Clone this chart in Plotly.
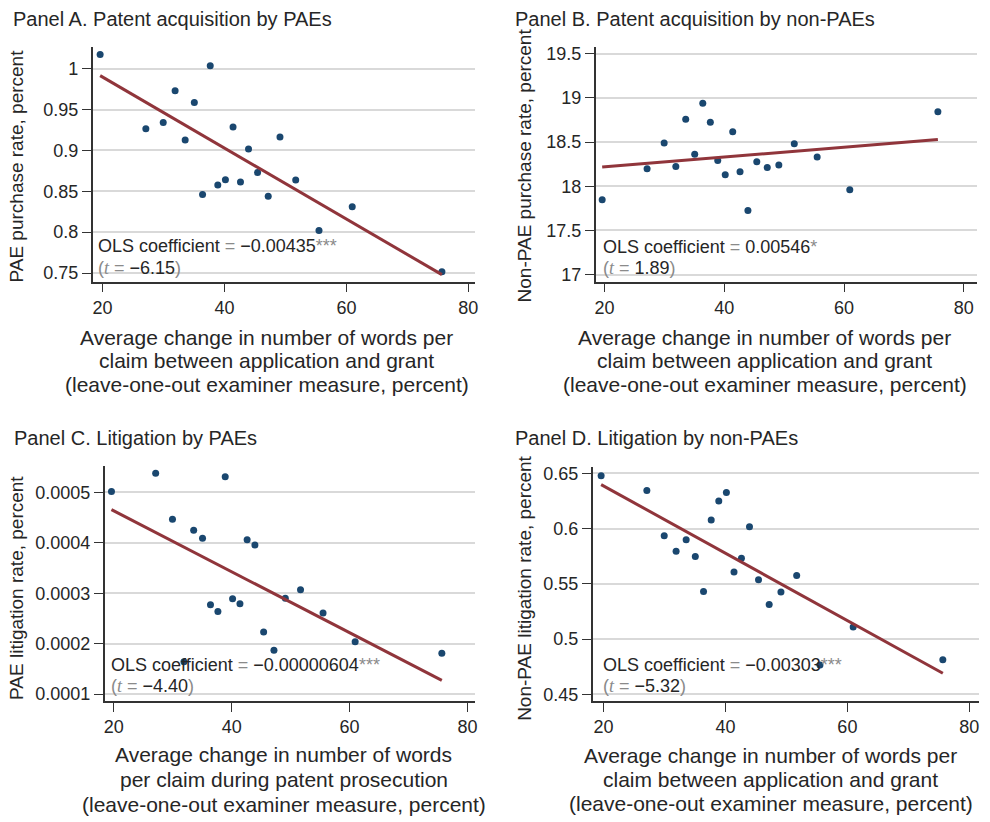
import numpy as np
import plotly.graph_objects as go

# ---------------- data ----------------
x_words = [19.6, 27.1, 29.95, 31.9, 33.55, 35.05, 36.4, 37.66, 38.9, 40.15,
           41.4, 42.62, 43.94, 45.42, 47.17, 49.1, 51.68, 55.5, 60.95, 75.66]

pae_purchase = [1.0173, 0.9266, 0.9343, 0.973, 0.9129, 0.9585, 0.846, 1.0036, 0.8577, 0.8641,
                0.9286, 0.8613, 0.9016, 0.873, 0.844, 0.9165, 0.8637, 0.802, 0.831, 0.7516]

nonpae_purchase = [17.847, 18.198, 18.489, 18.224, 18.757, 18.362, 18.94, 18.724, 18.291, 18.131,
                   18.616, 18.164, 17.724, 18.276, 18.213, 18.239, 18.481, 18.332, 17.959, 18.843]

pae_litigation = [0.000502, 0.000538, 0.000447, 0.000164, 0.000425, 0.000409, 0.000277, 0.000264,
                  0.000531, 0.000289, 0.000279, 0.000406, 0.000396, 0.000223, 0.000187, 0.000290,
                  0.000307, 0.000261, 0.000204, 0.000181]

nonpae_litigation = [0.6479, 0.6345, 0.5935, 0.5794, 0.5899, 0.5747, 0.543, 0.6078, 0.6249, 0.6327,
                     0.5606, 0.5732, 0.6016, 0.5537, 0.5313, 0.5427, 0.5576, 0.4766, 0.511, 0.4814]

# fitted OLS line values at the smallest and largest x
fit_at_min_x = [0.9915, 18.216, 0.000466, 0.6398]
fit_at_max_x = [0.748, 18.53, 0.000127, 0.4691]

panel_titles = ["Panel A. Patent acquisition by PAEs", "Panel B. Patent acquisition by non-PAEs",
                "Panel C. Litigation by PAEs", "Panel D. Litigation by non-PAEs"]
y_titles = ["PAE purchase rate, percent", "Non-PAE purchase rate, percent",
            "PAE litigation rate, percent", "Non-PAE litigation rate, percent"]
x_title_ab = ["Average change in number of words per", "claim between application and grant",
              "(leave-one-out examiner measure, percent)"]
x_title_c = ["Average change in number of words", "per claim during patent prosecution",
             "(leave-one-out examiner measure, percent)"]
coef_text = ["\u22120.00435", "0.00546", "\u22120.00000604", "\u22120.00303"]
coef_stars = ["***", "*", "***", "***"]
t_text = ["\u22126.15", "1.89", "\u22124.40", "\u22125.32"]

x_ticks = [20, 40, 60, 80]
y_ticks = [
    [0.75, 0.8, 0.85, 0.9, 0.95, 1.0],
    [17, 17.5, 18, 18.5, 19, 19.5],
    [0.0001, 0.0002, 0.0003, 0.0004, 0.0005],
    [0.45, 0.5, 0.55, 0.6, 0.65],
]
y_ticktext = [
    ["0.75", "0.8", "0.85", "0.9", "0.95", "1"],
    ["17", "17.5", "18", "18.5", "19", "19.5"],
    ["0.0001", "0.0002", "0.0003", "0.0004", "0.0005"],
    ["0.45", "0.5", "0.55", "0.6", "0.65"],
]

# ---------------- layout geometry ----------------
W, H = 990, 822
def px(v):
    return v / W
def py(v):
    return 1 - v / H

# plot boxes: (left, right, top, bottom) in pixels
boxes = [(92, 476, 44, 281), (597, 980, 44, 281), (104, 476, 467, 704), (594, 982, 468, 704)]
x_ranges = [[18.37, 81.1], [18.5, 82.2], [18.43, 81.3], [18.2, 81.6]]
y_ranges = [[0.7395, 1.027], [16.92, 19.58], [0.0000862, 0.0005525], [0.444, 0.6557]]

series = [pae_purchase, nonpae_purchase, pae_litigation, nonpae_litigation]

NAVY = "#1a476f"
MAROON = "#90353b"
TXT = "#262626"
GRID = "#d9d9d9"
FONT = "Liberation Sans, Arial, sans-serif"

fig = go.Figure()
xs = np.array(x_words)
for i, ys in enumerate(series):
    ax = "" if i == 0 else str(i + 1)
    fig.add_trace(go.Scatter(x=xs, y=ys, mode="markers", xaxis="x" + ax, yaxis="y" + ax,
                             marker=dict(color=NAVY, size=7, line=dict(width=0)),
                             showlegend=False, hoverinfo="x+y"))
    fig.add_trace(go.Scatter(x=[xs.min(), xs.max()], y=[fit_at_min_x[i], fit_at_max_x[i]],
                             mode="lines", xaxis="x" + ax, yaxis="y" + ax,
                             line=dict(color=MAROON, width=3), showlegend=False))

layout = dict(width=W, height=H, margin=dict(l=0, r=0, t=0, b=0),
              paper_bgcolor="white", plot_bgcolor="white",
              font=dict(family=FONT, color=TXT, size=18))
for i in range(4):
    l, r, t, b = boxes[i]
    suffix = "" if i == 0 else str(i + 1)
    layout["xaxis" + suffix] = dict(
        domain=[px(l), px(r)], range=x_ranges[i], anchor="y" + suffix,
        tickvals=x_ticks, ticks="outside", ticklen=9, tickwidth=1.3, tickcolor="#333",
        showline=True, linecolor="#333", linewidth=1.5, showgrid=False, zeroline=False,
        tickfont=dict(size=18, color=TXT, family=FONT))
    layout["yaxis" + suffix] = dict(
        domain=[py(b), py(t)], range=y_ranges[i], anchor="x" + suffix,
        tickvals=y_ticks[i], ticktext=y_ticktext[i], ticks="outside", ticklen=9, tickwidth=1.3,
        tickcolor="#333", showline=True, linecolor="#333", linewidth=1.5,
        showgrid=True, gridcolor=GRID, gridwidth=1.5, zeroline=False,
        tickfont=dict(size=18, color=TXT, family=FONT))

ann = []
# panel titles
title_pos = [(10, 16), (514, 16), (11, 439), (514, 439)]
for i, (x, y) in enumerate(title_pos):
    ann.append(dict(text=panel_titles[i], x=px(x), y=py(y), xref="paper", yref="paper",
                    xanchor="left", yanchor="middle", showarrow=False,
                    font=dict(size=20, color=TXT, family=FONT)))
# y titles
ytitle_pos = [(16, 164), (526, 164), (16, 590), (526, 590)]
for i, (x, y) in enumerate(ytitle_pos):
    ann.append(dict(text=y_titles[i], x=px(x), y=py(y), xref="paper", yref="paper",
                    xanchor="center", yanchor="middle", textangle=-90, showarrow=False,
                    font=dict(size=19, color=TXT, family=FONT)))
# x titles
xtitle_specs = [(267, [337, 361, 385], x_title_ab), (767, [337, 361, 385], x_title_ab),
                (284, [758, 783, 808], x_title_c), (773, [759, 783, 807], x_title_ab)]
for cx, ys_, lines in xtitle_specs:
    for yy, line in zip(ys_, lines):
        ann.append(dict(text=line, x=px(cx), y=py(yy), xref="paper", yref="paper",
                        xanchor="center", yanchor="middle", showarrow=False,
                        font=dict(size=21, color=TXT, family=FONT)))
# OLS texts
ols_pos = [(95, 245, 267), (602, 246, 267), (108, 668, 689), (602, 668, 689)]
GRAY = "#8a8a8a"
for i, (x, y1, y2) in enumerate(ols_pos):
    t1 = ("OLS coefficient <span style='color:%s'>=</span> %s<span style='color:%s'>%s</span>"
          % (GRAY, coef_text[i], GRAY, coef_stars[i]))
    t2 = ("<span style='color:%s'>(</span><span style='font-family:Liberation Serif;color:%s'><i>t</i></span>"
          " <span style='color:%s'>=</span> %s<span style='color:%s'>)</span>"
          % (GRAY, GRAY, GRAY, t_text[i], GRAY))
    for yy, tt in ((y1, t1), (y2, t2)):
        ann.append(dict(text=tt, x=px(x), y=py(yy), xref="paper", yref="paper",
                        xanchor="left", yanchor="middle", showarrow=False,
                        font=dict(size=18, color=TXT, family=FONT)))
layout["annotations"] = ann
fig.update_layout(**layout)
fig.write_html("out.html", config={"displayModeBar": False},
               post_script="document.body.style.margin='0';document.body.style.overflow='hidden';")
